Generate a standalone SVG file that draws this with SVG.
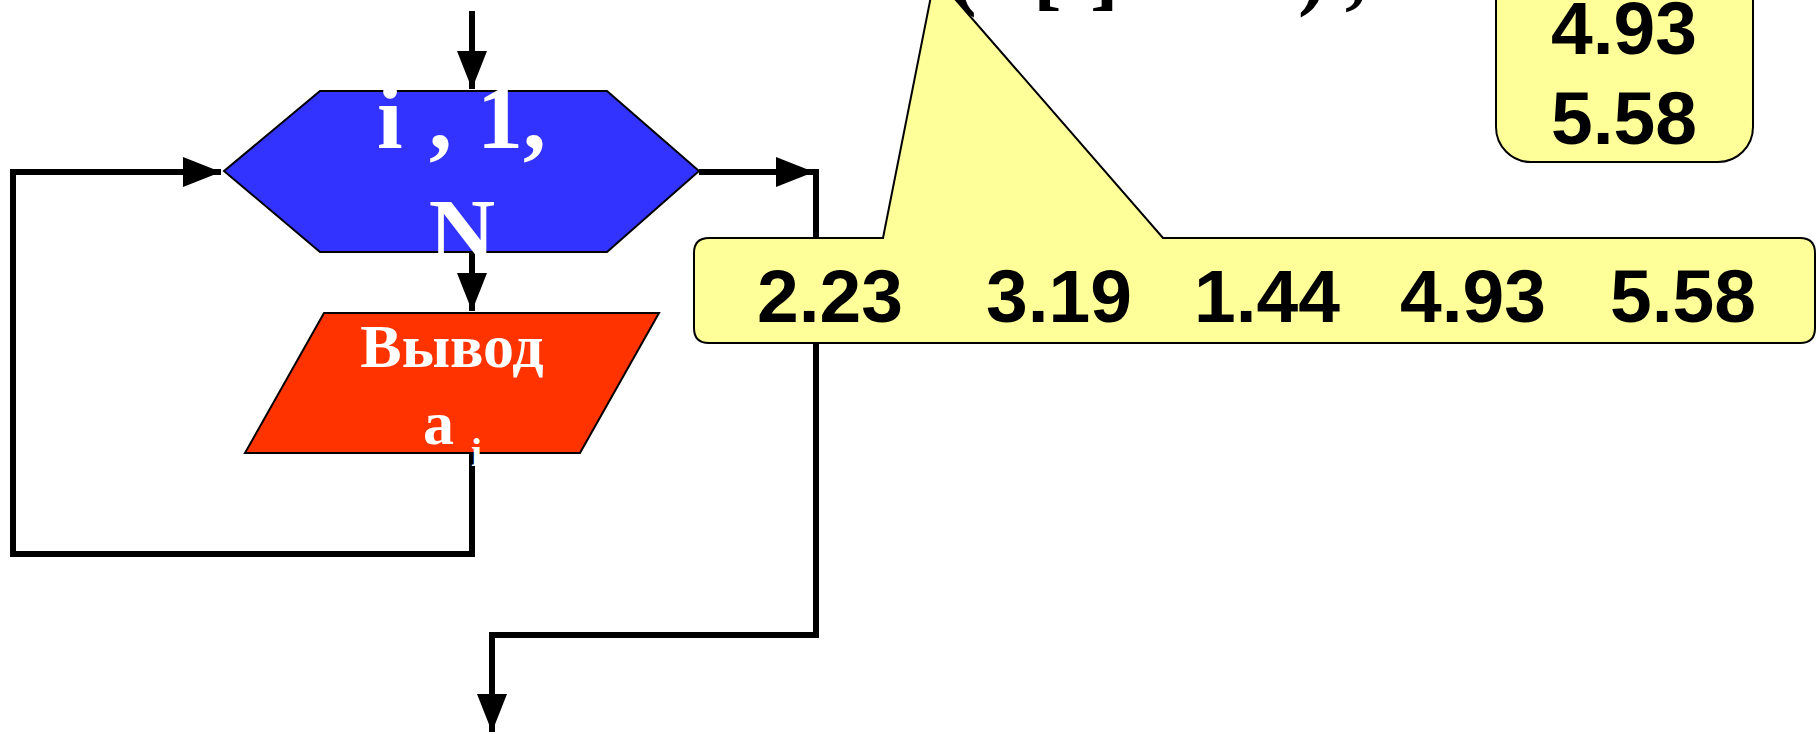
<svg xmlns="http://www.w3.org/2000/svg" width="1816" height="734" viewBox="0 0 1816 734">
<style>
.conn{fill:none;stroke:#000;stroke-width:6;stroke-linejoin:miter;stroke-linecap:butt}
.shape{stroke:#000;stroke-width:2}
.call{fill:#FFFF99;stroke:#000;stroke-width:2}
.ser{font-family:"Liberation Serif","Times New Roman",serif;font-weight:bold}
.wt{fill:#fff}
.num{font-family:"Liberation Sans",Arial,sans-serif;font-weight:bold;font-size:75px;fill:#000}
</style>
<defs>
<marker id="arr" markerUnits="userSpaceOnUse" markerWidth="40" markerHeight="32" refX="38" refY="15" orient="auto" viewBox="0 0 40 32">
<path d="M0,0 L38,15 L0,30 z" fill="#000"/>
</marker>
</defs>
<rect width="1816" height="734" fill="#fff"/>

<g id="code-text">
<text class="ser" font-size="86" y="-1" fill="#000"><tspan x="948">(</tspan><tspan x="1033">[</tspan><tspan x="1090">]</tspan><tspan x="1298">)</tspan><tspan x="1345">,</tspan></text>
</g>

<g id="connectors">
<path class="conn" d="M472,11 L472,89" marker-end="url(#arr)"/>
<path class="conn" d="M472,252 L472,311" marker-end="url(#arr)"/>
<path class="conn" d="M472,453 L472,554 L13,554 L13,172 L221,172" marker-end="url(#arr)"/>
<path class="conn" d="M699,172 L814,172" marker-end="url(#arr)"/>
<path class="conn" d="M816,169 L816,635 L492,635 L492,732" marker-end="url(#arr)"/>
</g>

<g id="loop-hex">
<polygon class="shape" fill="#3333FF" points="224,171 320,91 607,91 699,171 607,252 320,252"/>
<text class="ser wt" font-size="92" y="148" x="377 400 429 452 477 523">i , 1,</text>
<text class="ser wt" font-size="92" y="262" x="462" text-anchor="middle">N</text>
</g>

<g id="output-para">
<polygon class="shape" fill="#FF3300" points="324,313 659,313 580,453 245,453"/>
<text class="ser wt" font-size="62" y="367" x="452" text-anchor="middle">Вывод</text>
<text class="ser wt" font-size="62" y="444" x="423">a</text>
<text class="ser wt" font-size="40" y="466" x="471">i</text>
</g>

<g id="callout-array">
<path class="call" d="M709,238 L883,238 L935,-24 L1163,238 L1800,238 Q1815,238 1815,253 L1815,328 Q1815,343 1800,343 L709,343 Q694,343 694,328 L694,253 Q694,238 709,238 Z"/>
<text class="num" y="322"><tspan x="757">2.23</tspan><tspan x="986">3.19</tspan><tspan x="1194">1.44</tspan><tspan x="1400">4.93</tspan><tspan x="1610">5.58</tspan></text>
</g>

<g id="sorted-box">
<rect class="call" x="1496" y="-60" width="257" height="222" rx="35" ry="35"/>
<text class="num" x="1624" y="54" text-anchor="middle">4.93</text>
<text class="num" x="1624" y="144" text-anchor="middle">5.58</text>
</g>
</svg>
